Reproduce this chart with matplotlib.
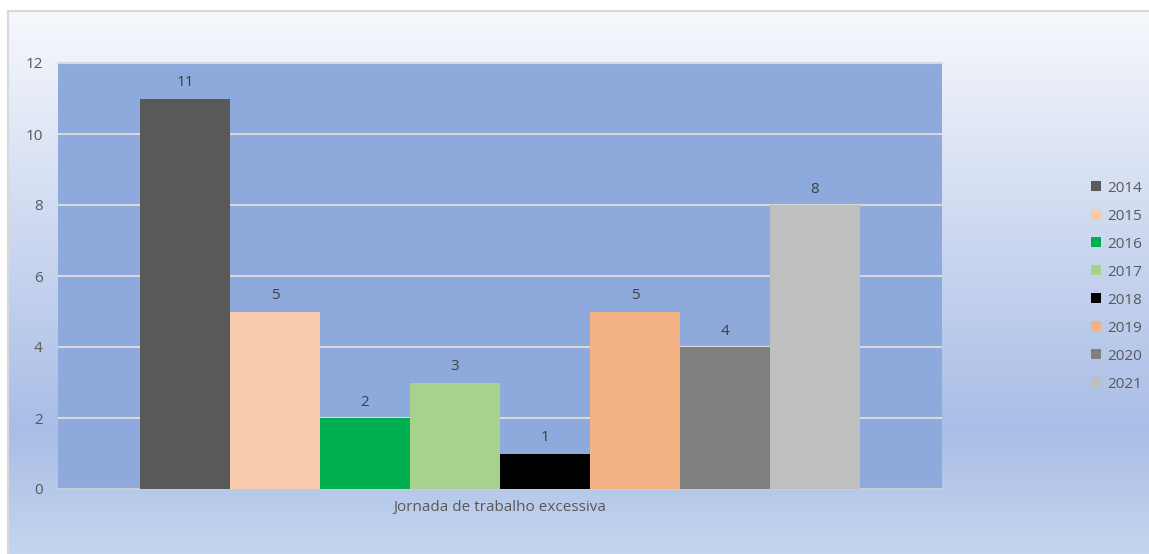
import numpy as np
import matplotlib.pyplot as plt
from matplotlib.colors import LinearSegmentedColormap
from matplotlib.patches import Patch

plt.rcParams['font.family'] = ['Open Sans', 'DejaVu Sans']

category = 'Jornada de trabalho excessiva'
years = ['2014', '2015', '2016', '2017', '2018', '2019', '2020', '2021']
values = [11, 5, 2, 3, 1, 5, 4, 8]
colors = ['#595959', '#F8CBAD', '#00B050', '#A9D18E', '#000000', '#F4B183', '#7F7F7F', '#BFBFBF']

W, H = 1149, 554
fig = plt.figure(figsize=(W / 100, H / 100), dpi=100, facecolor='white')

# chart area with vertical gradient background
bg = fig.add_axes([8 / W, 0, 1 - 8 / W + 0.01, (H - 11) / H])
grad = LinearSegmentedColormap.from_list(
    'bg', [(0, '#F6F8FC'), (0.77, '#A9BDE6'), (1.0, '#C4D5ED')])
bg.imshow(np.linspace(0, 1, 256).reshape(-1, 1), aspect='auto', cmap=grad,
          extent=[0, 1, 0, 1])
bg.set_xticks([])
bg.set_yticks([])
for s in ['right', 'bottom']:
    bg.spines[s].set_visible(False)
for s in ['left', 'top']:
    bg.spines[s].set_color('#D9D9D9')
    bg.spines[s].set_linewidth(1.5)

ax = fig.add_axes([58 / W, (H - 489) / H, 884 / W, (489 - 63) / H])
ax.set_facecolor('#8EA9DB')

width = 90 / 884
n = len(values)
start = -width * n / 2 + width / 2
for i, (yr, v, c) in enumerate(zip(years, values, colors)):
    x = start + i * width
    ax.bar(x, v, width=width, color=c, label=yr, zorder=3)
    ax.annotate(str(v), (x, v), xytext=(0, 6), textcoords='offset points',
                ha='center', va='bottom', fontsize=11, color='#404040')

ax.set_xlim(-0.5, 0.5)
ax.set_ylim(0, 12)
ax.set_yticks(range(0, 13, 2))
ax.set_xticks([0])
ax.set_xticklabels([category])
ax.tick_params(axis='both', length=0, labelsize=11, colors='#595959')
ax.tick_params(axis='y', pad=11)
ax.tick_params(axis='x', pad=8)
ax.grid(axis='y', color='#D9D9D9', linewidth=1.5, zorder=1)
ax.set_axisbelow(True)
for s in ['left', 'right']:
    ax.spines[s].set_visible(False)
ax.spines['top'].set_color('#D9D9D9')
ax.spines['top'].set_linewidth(1.5)
ax.spines['bottom'].set_color('#C8CCD4')
ax.spines['bottom'].set_linewidth(1.5)

handles = [Patch(facecolor=c, label=y) for y, c in zip(years, colors)]
leg = fig.legend(handles=handles, loc='upper left',
                 bbox_to_anchor=(1077 / W, 1 - 167 / H), frameon=False,
                 fontsize=11, handlelength=0.65, handleheight=0.65,
                 handletextpad=0.4, labelspacing=0.85, labelcolor='#595959')

fig.savefig('out.png', dpi=100, facecolor='white')
